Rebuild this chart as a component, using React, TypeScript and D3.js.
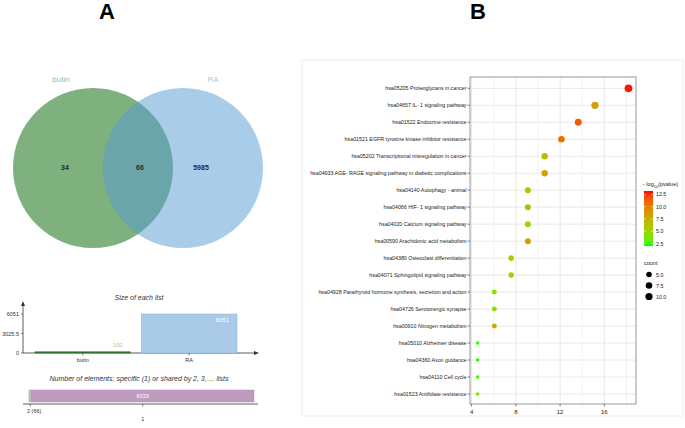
import * as d3 from "d3";

// ---- Venn (panel A) ----
const vennSets = ["butin", "RA"];
const vennCounts = [34, 66, 5985]; // butin only, shared, RA only

// ---- size of each list ----
const listNames = ["butin", "RA"];
const listSizes = [100, 6051];
const sizeTicks = [0, 3025.5, 6051];

// ---- specific / shared ----
const sharedLabels = ["2 (66)", "1"];
const sharedCounts = [66, 6019];

// ---- KEGG dot plot (panel B) ----
const pathways = [
  "hsa05205 Proteoglycans in cancer",
  "hsa04657 IL- 1 signaling pathway",
  "hsa01522 Endocrine resistance",
  "hsa01521 EGFR tyrosine kinase inhibitor resistance",
  "hsa05202 Transcriptional misregulation in cancer",
  "hsa04933 AGE- RAGE signaling pathway in diabetic complications",
  "hsa04140 Autophagy -  animal",
  "hsa04066 HIF- 1 signaling pathway",
  "hsa04020 Calcium signaling pathway",
  "hsa00590 Arachidonic acid metabolism",
  "hsa04380 Osteoclast differentiation",
  "hsa04071 Sphingolipid signaling pathway",
  "hsa04928 Parathyroid hormone synthesis, secretion and action",
  "hsa04726 Serotonergic synapse",
  "hsa00910 Nitrogen metabolism",
  "hsa05010 Alzheimer disease",
  "hsa04360 Axon guidance",
  "hsa04110 Cell cycle",
  "hsa01523 Antifolate resistance",
];
const ratio = [18.18, 15.15, 13.64, 12.12, 10.61, 10.61, 9.09, 9.09, 9.09, 9.09, 7.58, 7.58, 6.06, 6.06, 6.06, 4.55, 4.55, 4.55, 4.55];
const counts = [12, 10, 9, 8, 7, 7, 6, 6, 6, 6, 5, 5, 4, 4, 4, 3, 3, 3, 3];
const logP = [13.1, 8.4, 11.5, 10.6, 6.6, 8.1, 5.6, 6.6, 5.0, 8.2, 5.2, 5.2, 4.2, 4.2, 7.6, 2.3, 2.2, 2.3, 3.8];
const xTicks = [4, 8, 12, 16];
const xMinor = [6, 10, 14, 18];
const colorTicks = [2.5, 5.0, 7.5, 10.0, 12.5];
const sizeLegend = [5.0, 7.5, 10.0];

const FONT = "'Liberation Sans', Arial, sans-serif";

function PanelA() {
  const cx = d3.scaleOrdinal<string, number>().domain(vennSets).range([93, 183]);
  const sizeY = d3.scaleLinear().domain([0, 6051]).range([353, 314]);
  const sizeX = d3.scaleBand().domain(listNames).range([35, 237]).paddingInner(0.1);
  const total = d3.sum(sharedCounts);
  const shX = d3.scaleLinear().domain([0, total]).range([29, 254]);
  let acc = 0;
  const segs = sharedCounts.map((c, i) => {
    const s = { x0: acc, x1: acc + c, label: sharedLabels[i], c };
    acc += c;
    return s;
  });
  const segFill = ["#bdbdbd", "#bf9cbf"];
  return (
    <g fontFamily={FONT}>
      <text x={107} y={19} textAnchor="middle" fontSize={22} fontWeight="bold">A</text>
      {/* Venn */}
      <circle cx={cx("butin")} cy={168} r={80} fill="#006400" fillOpacity={0.5} />
      <circle cx={cx("RA")} cy={168} r={80} fill="rgb(83,153,211)" fillOpacity={0.5} />
      <text x={61} y={82} textAnchor="middle" fontSize={8} fill="#8fbf85">{vennSets[0]}</text>
      <text x={213} y={82} textAnchor="middle" fontSize={8} fill="#a8c8e6">{vennSets[1]}</text>
      <text x={65} y={170} textAnchor="middle" fontSize={7} fontWeight="bold" fill="#2a2a2a">{vennCounts[0]}</text>
      <text x={140} y={170} textAnchor="middle" fontSize={7} fontWeight="bold" fill="#2a2a2a">{vennCounts[1]}</text>
      <text x={201} y={170} textAnchor="middle" fontSize={7} fontWeight="bold" fill="#2a2a2a">{vennCounts[2]}</text>

      {/* size of each list */}
      <text x={139} y={300} textAnchor="middle" fontSize={7} fontStyle="italic" fill="#333">Size of each list</text>
      <line x1={23} x2={23} y1={353} y2={304} stroke="#333" strokeWidth={0.8} />
      <path d="M23,301 L21,306 L25,306 Z" fill="#333" />
      <line x1={23} x2={255} y1={353} y2={353} stroke="#333" strokeWidth={0.8} />
      <path d="M259,353 L254,351 L254,355 Z" fill="#333" />
      {sizeTicks.map((t) => (
        <g key={t}>
          <line x1={21} x2={23} y1={sizeY(t)} y2={sizeY(t)} stroke="#333" strokeWidth={0.6} />
          <text x={19} y={sizeY(t) + 2} textAnchor="end" fontSize={5.5} fill="#333">{t}</text>
        </g>
      ))}
      {listNames.map((n, i) => {
        const x = sizeX(n)!;
        const w = sizeX.bandwidth();
        const y = sizeY(listSizes[i]);
        const h = Math.max(1.2, 353 - y);
        return (
          <g key={n}>
            <rect x={x} y={353 - h} width={w} height={h}
              fill={i === 0 ? "#2f6e2f" : "#a9cbe8"} stroke={i === 0 ? "#2f6e2f" : "#8fb5d8"} strokeWidth={0.5} />
            <text x={x + w - 8} y={i === 0 ? 347 : y + 8} textAnchor="end" fontSize={6}
              fill={i === 0 ? "#b3c98b" : "#ffffff"}>{listSizes[i]}</text>
            <line x1={x + w / 2} x2={x + w / 2} y1={353} y2={355.5} stroke="#333" strokeWidth={0.6} />
            <text x={x + w / 2} y={362} textAnchor="middle" fontSize={5.5} fill="#333">{n}</text>
          </g>
        );
      })}

      {/* specific / shared */}
      <text x={139} y={381} textAnchor="middle" fontSize={7} fontStyle="italic" fill="#333">
        Number of elements: specific (1) or shared by 2, 3, ... lists
      </text>
      {segs.map((s, i) => (
        <g key={s.label}>
          <rect x={shX(s.x0)} y={390} width={shX(s.x1) - shX(s.x0)} height={12}
            fill={segFill[i]} stroke={i === 0 ? "#999" : "#a885a8"} strokeWidth={0.4} />
          {i === 1 && (
            <text x={(shX(s.x0) + shX(s.x1)) / 2} y={398} textAnchor="middle" fontSize={5.5} fill="#fff">{s.c}</text>
          )}
          <line x1={(shX(s.x0) + shX(s.x1)) / 2} x2={(shX(s.x0) + shX(s.x1)) / 2} y1={404} y2={406.5} stroke="#333" strokeWidth={0.6} />
        </g>
      ))}
      <line x1={23} x2={258} y1={404} y2={404} stroke="#333" strokeWidth={0.8} />
      <text x={27} y={413} fontSize={5.5} fill="#333">{segs[0].label}</text>
      <text x={(shX(segs[1].x0) + shX(segs[1].x1)) / 2} y={421} textAnchor="middle" fontSize={5.5} fill="#333">{segs[1].label}</text>
    </g>
  );
}

function PanelB() {
  const left = 470, right = 636, top = 77, bottom = 404;
  const x = d3.scaleLinear().domain([3.86, 18.86]).range([left, right]);
  const y = d3.scalePoint<string>().domain(pathways).range([88.3, 394]);
  const cMin = 2.0, cMax = 13.2;
  const color = d3.scaleLinear<string>().domain([cMin, cMax]).range(["#00ff00", "#ff0000"]).interpolate(d3.interpolateLab);
  const cExt = d3.extent(counts) as [number, number];
  const rT = d3.scaleLinear().domain(cExt).range([0, 1]);
  const radius = (c: number) => 1.8 + Math.sqrt(Math.max(0, rT(c))) * 2.05;
  const cbTop = 191, cbBottom = 246;
  const cbY = d3.scaleLinear().domain([cMin, cMax]).range([cbBottom, cbTop]);
  const stops = d3.range(0, 11).map((i) => i / 10);
  return (
    <g fontFamily={FONT}>
      <text x={478} y={19} textAnchor="middle" fontSize={22} fontWeight="bold">B</text>
      <rect x={302} y={60} width={381} height={356} fill="#fff" stroke="#ececec" strokeWidth={1} />
      {/* grid */}
      {xMinor.map((t) => (
        <line key={"m" + t} x1={x(t)} x2={x(t)} y1={top} y2={bottom} stroke="#f0f0f0" strokeWidth={0.8} />
      ))}
      {xTicks.map((t) => (
        <line key={"M" + t} x1={x(t)} x2={x(t)} y1={top} y2={bottom} stroke="#e6e6e6" strokeWidth={0.9} />
      ))}
      {pathways.map((p) => (
        <line key={"g" + p} x1={left} x2={right} y1={y(p)} y2={y(p)} stroke="#e6e6e6" strokeWidth={0.9} />
      ))}
      <rect x={left} y={top} width={right - left} height={bottom - top} fill="none" stroke="#8c8c8c" strokeWidth={0.9} />
      {/* y axis */}
      {pathways.map((p) => (
        <g key={"y" + p}>
          <line x1={left - 2.5} x2={left} y1={y(p)} y2={y(p)} stroke="#333" strokeWidth={0.6} />
          <text x={left - 3.5} y={y(p)! + 1.9} textAnchor="end" fontSize={5.3} fill="#222">{p}</text>
        </g>
      ))}
      {/* x axis */}
      {xTicks.map((t) => (
        <g key={"x" + t}>
          <line x1={x(t)} x2={x(t)} y1={bottom} y2={bottom + 2.5} stroke="#333" strokeWidth={0.6} />
          <text x={x(t)} y={bottom + 9.5} textAnchor="middle" fontSize={6} fill="#222">{t}</text>
        </g>
      ))}
      {/* dots */}
      {pathways.map((p, i) => (
        <circle key={"d" + p} cx={x(ratio[i])} cy={y(p)} r={radius(counts[i])} fill={color(logP[i])} />
      ))}
      {/* colour legend */}
      <defs>
        <linearGradient id="cbar" x1="0" y1="1" x2="0" y2="0">
          {stops.map((s) => (
            <stop key={s} offset={s} stopColor={color(cMin + s * (cMax - cMin))} />
          ))}
        </linearGradient>
      </defs>
      <text x={643} y={186} fontSize={5.5} fill="#222">
        - log<tspan fontSize={4} dy={1.5}>10</tspan><tspan dy={-1.5}>(pvalue)</tspan>
      </text>
      <rect x={644} y={cbTop} width={9} height={cbBottom - cbTop} fill="url(#cbar)" />
      {colorTicks.map((t) => (
        <g key={"c" + t}>
          <line x1={644} x2={646} y1={cbY(t)} y2={cbY(t)} stroke="#fff" strokeWidth={0.5} />
          <line x1={651} x2={653} y1={cbY(t)} y2={cbY(t)} stroke="#fff" strokeWidth={0.5} />
          <text x={656} y={cbY(t) + 2} fontSize={5.3} fill="#222">{t.toFixed(1)}</text>
        </g>
      ))}
      {/* size legend */}
      <text x={644} y={265} fontSize={5.5} fill="#222">count</text>
      {sizeLegend.map((s, i) => (
        <g key={"s" + s}>
          <circle cx={649} cy={274.5 + i * 11} r={radius(s)} fill="#000" />
          <text x={656} y={276.5 + i * 11} fontSize={5.3} fill="#222">{s.toFixed(1)}</text>
        </g>
      ))}
    </g>
  );
}

export default function App() {
  return (
    <div style={{ position: "absolute", left: 0, top: 0 }}>
      <svg width={685} height={428} viewBox="0 0 685 428" style={{ display: "block", background: "#fff" }}>
        <PanelA />
        <PanelB />
      </svg>
    </div>
  );
}
